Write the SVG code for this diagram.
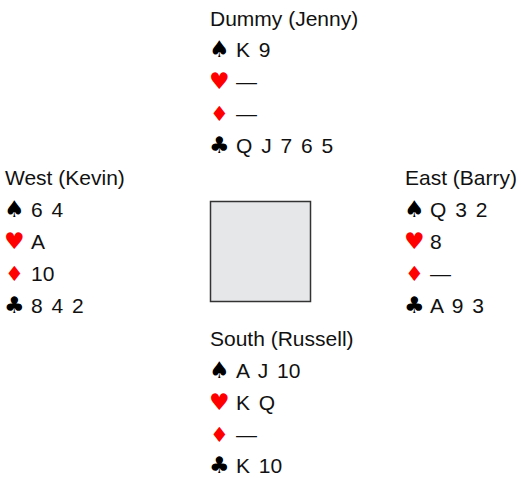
<svg xmlns="http://www.w3.org/2000/svg" width="521" height="479" viewBox="0 0 521 479">
  <style>
    .t { font-family: "Liberation Sans", Arial, sans-serif; font-size: 21px; fill: #111; }
    .c { word-spacing: 3px; }
    .s { font-family: "DejaVu Sans", sans-serif; font-size: 23px; }
    .d { font-size: 21px; }
    .blk { fill: #000; }
    .red { fill: #ff0000; }
  </style>
  <rect width="521" height="479" fill="#ffffff"/>

  <!-- North: dummy -->
  <g id="north">
    <text class="t" x="210" y="26">Dummy (Jenny)</text>
    <text class="s blk" x="209" y="57">♠</text><text class="t c" x="236" y="57">K 9</text>
    <text class="s red" x="209" y="89">♥</text><text class="t" x="236" y="89">—</text>
    <text class="s d red" x="210" y="121">♦</text><text class="t" x="236" y="121">—</text>
    <text class="s blk" x="209" y="153">♣</text><text class="t c" x="236" y="153">Q J 7 6 5</text>
  </g>

  <!-- West -->
  <g id="west">
    <text class="t" x="5" y="185">West (Kevin)</text>
    <text class="s blk" x="4" y="217">♠</text><text class="t c" x="31" y="217">6 4</text>
    <text class="s red" x="4" y="249">♥</text><text class="t c" x="31" y="249">A</text>
    <text class="s d red" x="5" y="281">♦</text><text class="t c" x="31" y="281">10</text>
    <text class="s blk" x="4" y="313">♣</text><text class="t c" x="31" y="313">8 4 2</text>
  </g>

  <!-- East -->
  <g id="east">
    <text class="t" x="405" y="185">East (Barry)</text>
    <text class="s blk" x="404" y="217">♠</text><text class="t c" x="430" y="217">Q 3 2</text>
    <text class="s red" x="404" y="249">♥</text><text class="t c" x="430" y="249">8</text>
    <text class="s d red" x="405" y="281">♦</text><text class="t" x="430" y="281">—</text>
    <text class="s blk" x="404" y="313">♣</text><text class="t c" x="430" y="313">A 9 3</text>
  </g>

  <!-- Table -->
  <g id="table">
    <rect x="210.5" y="201.5" width="100" height="100" fill="#e6e7e9" stroke="#333" stroke-width="1.5"/>
  </g>

  <!-- South -->
  <g id="south">
    <text class="t" x="210" y="346">South (Russell)</text>
    <text class="s blk" x="209" y="378">♠</text><text class="t c" x="236" y="378">A J 10</text>
    <text class="s red" x="209" y="410">♥</text><text class="t c" x="236" y="410">K Q</text>
    <text class="s d red" x="210" y="442">♦</text><text class="t" x="236" y="442">—</text>
    <text class="s blk" x="209" y="473">♣</text><text class="t c" x="236" y="473">K 10</text>
  </g>
</svg>
